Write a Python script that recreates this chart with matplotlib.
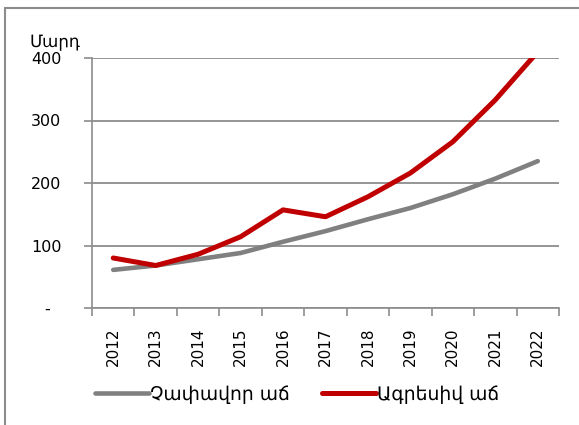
import numpy as np
import matplotlib.pyplot as plt
from matplotlib.patches import Rectangle

# Տվյալներ
years = ['2012', '2013', '2014', '2015', '2016', '2017', '2018', '2019', '2020', '2021', '2022']
moderate = [61, 68, 78, 88, 106, 123, 142, 160, 182, 207, 235]
aggressive = [80, 68, 86, 114, 157, 146, 178, 216, 266, 333, 410]
y_ticks = [0, 100, 200, 300, 400]
y_labels = ['-  ', '100', '200', '300', '400']

plt.rcParams['font.family'] = ['DejaVu Sans']
W, H = 579, 425
fig = plt.figure(figsize=(W / 100, H / 100), dpi=100)

# frame around the chart (cut at right/bottom)
fig.patches.append(Rectangle((5 / W, -0.1), 1.2, 1 - 8 / H + 0.1, transform=fig.transFigure,
                             fill=False, edgecolor='#8c8c8c', linewidth=1.5))

ax = fig.add_axes([92 / W, 1 - 308 / H, (559 - 92) / W, (308 - 58) / H])
x = np.arange(len(years))
ax.plot(x, moderate, color='#808080', linewidth=3.3, solid_capstyle='round', label='Չափավոր աճ')
ax.plot(x, aggressive, color='#c00000', linewidth=3.6, solid_capstyle='round', label='Ագրեսիվ աճ')

ax.set_xlim(-0.5, len(years) - 0.5)
ax.set_ylim(0, 400)
ax.set_yticks(y_ticks)
ax.set_yticklabels(y_labels)
ax.set_xticks(x)
ax.set_xticklabels(years, rotation=90)
ax.set_xticks(np.arange(len(years) + 1) - 0.5, minor=True)
ax.tick_params(axis='x', which='major', length=0, pad=14, labelsize=11)
ax.tick_params(axis='x', which='minor', length=6, width=1.2, color='#8c8c8c')
ax.tick_params(axis='y', length=6, width=1.2, color='#8c8c8c', pad=16, labelsize=11.5)
ax.grid(axis='y', color='#8c8c8c', linewidth=1.3)
ax.set_axisbelow(True)
for s in ['top', 'right']:
    ax.spines[s].set_visible(False)
for s in ['left', 'bottom']:
    ax.spines[s].set_color('#8c8c8c')
    ax.spines[s].set_linewidth(1.2)

fig.text(55 / W, 1 - 42 / H, 'Մարդ', ha='center', va='center', fontsize=12)

ax.legend(loc='center', bbox_to_anchor=(297 / W, 1 - 394 / H), bbox_transform=fig.transFigure,
          ncol=2, frameon=False, fontsize=13.5, handlelength=2.9, handletextpad=0.05,
          columnspacing=1.7)

fig.savefig('out.png', dpi=100)
